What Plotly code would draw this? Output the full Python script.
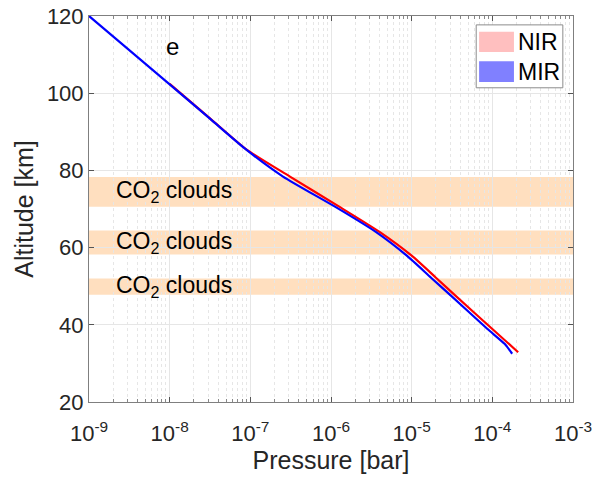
import plotly.graph_objects as go

# Pressure-altitude profiles (pressure in bar, altitude in km)
nir_pressure = [1.0e-8, 3.16e-8, 8.99e-8, 3.10e-7, 1.22e-6, 4.04e-6, 1.0e-5, 2.0e-5, 3.43e-5, 1.0e-4, 2.09e-4]
nir_altitude = [102.4, 93.5, 85.4, 78.4, 70.8, 64.0, 57.9, 52.2, 47.7, 38.9, 32.9]

mir_pressure = [1.0e-9, 1.0e-8, 3.16e-8, 8.99e-8, 2.54e-7, 1.12e-6, 3.63e-6, 8.71e-6, 1.74e-5, 3.02e-5, 8.71e-5, 1.43e-4, 1.76e-4]
mir_altitude = [120.0, 102.3, 93.4, 85.3, 78.4, 70.6, 64.0, 57.9, 52.2, 47.7, 38.9, 35.0, 32.5]

# CO2 cloud layers (bottom, top) in km
cloud_bottom = [70.6, 58.2, 47.8]
cloud_top = [78.3, 64.4, 52.0]
cloud_label = "CO<sub>2</sub> clouds"

# Axis ticks
x_tickvals = [1e-9, 1e-8, 1e-7, 1e-6, 1e-5, 1e-4, 1e-3]
x_ticktext = ["10<sup>-9</sup>", "10<sup>-8</sup>", "10<sup>-7</sup>", "10<sup>-6</sup>",
              "10<sup>-5</sup>", "10<sup>-4</sup>", "10<sup>-3</sup>"]
y_tickvals = [20, 40, 60, 80, 100, 120]

legend_names = ["NIR", "MIR"]
legend_colors = ["#ffbfbf", "#8080ff"]

FONT = "Arial, Liberation Sans, sans-serif"
TXT = "#262626"

fig = go.Figure()
fig.add_trace(go.Scatter(x=nir_pressure, y=nir_altitude, mode="lines",
                         line=dict(color="#ff0000", width=2.2, shape="spline", smoothing=0.6),
                         name="NIR", showlegend=False))
fig.add_trace(go.Scatter(x=mir_pressure, y=mir_altitude, mode="lines",
                         line=dict(color="#0000ff", width=2.2, shape="spline", smoothing=0.6),
                         name="MIR", showlegend=False))

# cloud bands and their labels
for b, t in zip(cloud_bottom, cloud_top):
    fig.add_shape(type="rect", xref="x domain", yref="y", x0=0, x1=1, y0=b, y1=t,
                  fillcolor="rgba(255,128,0,0.25)", line=dict(width=0), layer="below")
    fig.add_annotation(xref="x domain", yref="y", x=0.051, y=(b + t) / 2,
                       text=cloud_label, showarrow=False, xanchor="left", yanchor="middle",
                       font=dict(family=FONT, size=23, color="#000000"))

# panel letter
fig.add_annotation(xref="paper", yref="paper", x=0.172, y=0.92, text="e", showarrow=False,
                   xanchor="center", yanchor="middle", font=dict(family=FONT, size=24, color="#000000"))

# legend box drawn with patches
fig.add_shape(type="rect", xref="paper", yref="paper", x0=0.800, x1=0.979, y0=0.814, y1=0.977,
              fillcolor="white", line=dict(color="#8c8c8c", width=1), layer="above")
patch_y = [(0.907, 0.959), (0.829, 0.883)]
for name, col, (y0, y1) in zip(legend_names, legend_colors, patch_y):
    fig.add_shape(type="rect", xref="paper", yref="paper", x0=0.806, x1=0.878, y0=y0, y1=y1,
                  fillcolor=col, line=dict(width=0), layer="above")
    fig.add_annotation(xref="paper", yref="paper", x=0.882, y=(y0 + y1) / 2, text=name,
                       showarrow=False, xanchor="left", yanchor="middle",
                       font=dict(family=FONT, size=23, color="#000000"))

fig.update_xaxes(type="log", range=[-9, -3], tickvals=x_tickvals, ticktext=x_ticktext,
                 ticks="inside", ticklen=5, tickcolor="#555", mirror="allticks",
                 showline=True, linecolor="#7f7f7f", linewidth=1,
                 showgrid=True, gridcolor="#e6e6e6", gridwidth=1,
                 minor=dict(dtick="D1", ticks="inside", ticklen=3, tickcolor="#888",
                            showgrid=True, gridcolor="#e6e6e6", griddash="dot", gridwidth=1),
                 tickfont=dict(family=FONT, size=22, color=TXT), ticklabelstandoff=12,
                 ticklabeloverflow="allow", automargin=False,
                 title=dict(text="Pressure [bar]", font=dict(family=FONT, size=25, color=TXT), standoff=2),
                 zeroline=False)
fig.update_yaxes(range=[20, 120], tickvals=y_tickvals, ticks="inside", ticklen=5, tickcolor="#555",
                 mirror="allticks", showline=True, linecolor="#7f7f7f", linewidth=1,
                 showgrid=True, gridcolor="#e6e6e6", gridwidth=1,
                 tickfont=dict(family=FONT, size=22, color=TXT), automargin=False,
                 title=dict(text="Altitude [km]", font=dict(family=FONT, size=25, color=TXT), standoff=6),
                 zeroline=False)

fig.update_layout(width=592, height=478, margin=dict(l=89, r=19, t=16, b=76),
                  plot_bgcolor="white", paper_bgcolor="white", showlegend=False)

fig.write_html("out.html")
